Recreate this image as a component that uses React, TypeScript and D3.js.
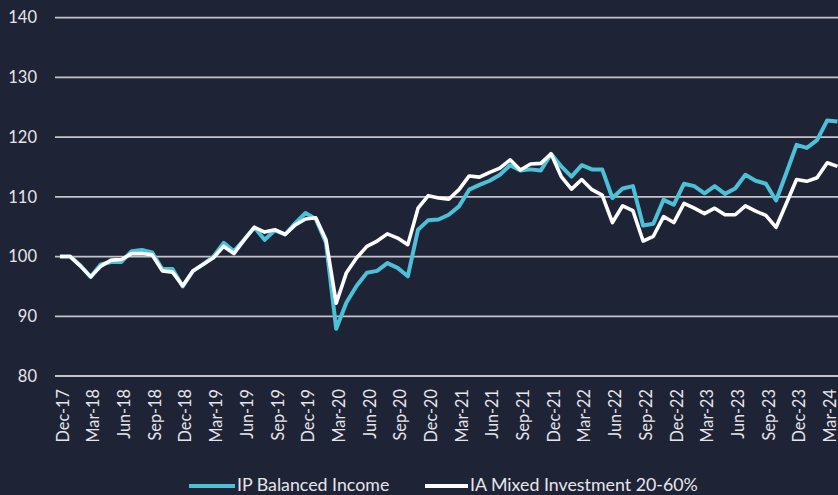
import React from "react";
import * as d3 from "d3";

const months: string[] = (() => {
  const names = ["Jan","Feb","Mar","Apr","May","Jun","Jul","Aug","Sep","Oct","Nov","Dec"];
  const out: string[] = [];
  let m = 11, y = 17;
  for (let i = 0; i < 77; i++) {
    out.push(`${names[m]}-${y}`);
    m++; if (m > 11) { m = 0; y++; }
  }
  return out;
})();

const ipBalancedIncome: number[] = [
  100, 100, 98.5, 96.6, 98.7, 99.1, 99.1, 100.9, 101.1, 100.7, 97.9, 97.9, 95.0,
  97.6, 98.7, 100.0, 102.3, 100.9, 102.8, 104.9, 102.8, 104.4, 103.7, 105.6, 107.3,
  106.3, 102.3, 87.9, 92.3, 95.1, 97.3, 97.6, 98.9, 98.1, 96.7, 104.5, 106.1,
  106.2, 107.0, 108.4, 111.2, 112.0, 112.7, 113.7, 115.3, 114.4, 114.6, 114.4, 117.2,
  115.1, 113.4, 115.3, 114.6, 114.6, 109.8, 111.4, 111.8, 105.2, 105.5, 109.5, 108.7,
  112.2, 111.8, 110.6, 111.8, 110.5, 111.4, 113.7, 112.7, 112.2, 109.4, 114.0, 118.7,
  118.2, 119.5, 122.8, 122.6,
];

const iaMixed: number[] = [
  100, 100, 98.4, 96.6, 98.4, 99.4, 99.5, 100.5, 100.5, 100.3, 97.6, 97.4, 95.1,
  97.6, 98.7, 99.8, 101.7, 100.5, 102.8, 104.9, 104.1, 104.5, 103.7, 105.3, 106.3,
  106.5, 102.8, 92.2, 97.3, 99.8, 101.7, 102.6, 103.8, 103.1, 102.0, 108.1, 110.2,
  109.8, 109.6, 111.2, 113.5, 113.3, 114.1, 114.8, 116.2, 114.5, 115.5, 115.6, 117.2,
  113.4, 111.3, 112.9, 111.2, 110.3, 105.7, 108.5, 107.7, 102.6, 103.4, 106.7, 105.7,
  108.9, 108.1, 107.2, 108.1, 107.0, 107.0, 108.5, 107.6, 106.9, 104.9, 108.9, 112.9,
  112.6, 113.2, 115.7, 115.1,
];

const yTicks: number[] = [80, 90, 100, 110, 120, 130, 140];
const tickMonths: string[] = months.filter((_, i) => i % 3 === 0 && i <= 75);

const W = 838, H = 495;
const BG = "#1f2336";
const CYAN = "#4cc0d6";
const FONT = "Lato, 'Open Sans', sans-serif";

export default function App() {
  const plotLeft = 55;
  const step = 10.23;
  const x = d3.scalePoint<string>()
    .domain(months)
    .range([60, 60 + step * (months.length - 1)]);
  const y = d3.scaleLinear().domain([80, 140]).range([376, 17.7]);

  const line = d3.line<number>()
    .x((_, i) => x(months[i]) as number)
    .y((d) => y(d))
    .curve(d3.curveLinear);

  return (
    <svg width={W} height={H} style={{ position: "absolute", left: 0, top: 0, display: "block" }}>
      <rect x={0} y={0} width={W} height={H} fill={BG} />
      {yTicks.map((t) => (
        <g key={t}>
          <line x1={plotLeft} x2={W} y1={y(t)} y2={y(t)} stroke="#c4c4c8" strokeWidth={1.8} />
          <text x={37} y={y(t)} dy="0.35em" textAnchor="end" fill="#e6e6ea" fontFamily={FONT} fontSize={16.5}>
            {t}
          </text>
        </g>
      ))}
      {tickMonths.map((m) => (
        <text
          key={m}
          transform={`translate(${(x(m) as number) + 3},389) rotate(-90)`}
          textAnchor="end"
          dy="0.35em"
          fill="#e6e6ea"
          fontFamily={FONT}
          fontSize={16.3}
        >
          {m}
        </text>
      ))}
      <path d={line(ipBalancedIncome) || ""} fill="none" stroke={CYAN} strokeWidth={4} strokeLinejoin="round" />
      <path d={line(iaMixed) || ""} fill="none" stroke="#ffffff" strokeWidth={3.6} strokeLinejoin="round" />
      <g>
        <line x1={189} x2={235} y1={486} y2={486} stroke={CYAN} strokeWidth={4} />
        <text x={237} y={490.5} fill="#e6e6ea" fontFamily={FONT} fontSize={17.8}>IP Balanced Income</text>
        <line x1={425} x2={468} y1={486} y2={486} stroke="#ffffff" strokeWidth={4} />
        <text x={470} y={490.5} fill="#e6e6ea" fontFamily={FONT} fontSize={17.8}>IA Mixed Investment 20-60%</text>
      </g>
    </svg>
  );
}
